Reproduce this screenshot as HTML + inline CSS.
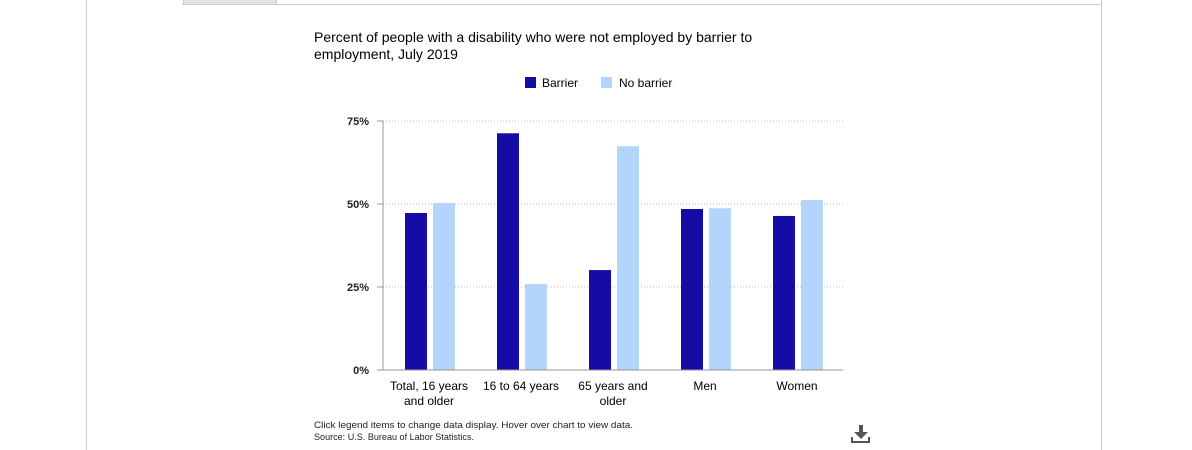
<!DOCTYPE html>
<html><head><meta charset="utf-8"><style>
body{margin:0;width:1192px;height:450px;background:#fff;overflow:hidden;font-family:"Liberation Sans",Arial,sans-serif;position:relative}
</style></head><body>
<div style="position:absolute;left:86px;top:0;width:1px;height:450px;background:#ccc"></div>
<div style="position:absolute;left:1101px;top:0;width:1px;height:450px;background:#ccc"></div>
<div style="position:absolute;left:182px;top:0;width:920px;height:4px;border-bottom:1px solid #ccc"></div>
<div style="position:absolute;left:183px;top:0;width:92px;height:4px;background:#e2e6e0;border:1px solid #ccc;border-top:none"></div>
<svg width="1192" height="450" style="position:absolute;left:0;top:0" id="chart">
<text x="314" y="42" font-size="14" fill="#000">Percent of people with a disability who were not employed by barrier to</text>
<text x="314" y="59" font-size="14" fill="#000">employment, July 2019</text>
<g><rect x="525" y="77" width="11" height="11" fill="#150ca5"/><text x="542" y="87" font-size="12">Barrier</text></g>
<g><rect x="601" y="77" width="11" height="11" fill="#b3d4fb"/><text x="619" y="87" font-size="12">No barrier</text></g>
<g id="plot"></g>
<text x="314" y="428" font-size="9.5" fill="#222" textLength="319" lengthAdjust="spacingAndGlyphs">Click legend items to change data display. Hover over chart to view data.</text>
<text x="314" y="440" font-size="9.5" fill="#222" textLength="160" lengthAdjust="spacingAndGlyphs">Source: U.S. Bureau of Labor Statistics.</text>
<g fill="#555"><rect x="859" y="425" width="4" height="8"/><polygon points="854,432 868,432 861,439"/><rect x="851" y="441" width="19" height="2"/><rect x="851" y="437" width="2" height="5"/><rect x="868" y="437" width="2" height="5"/></g>
</svg>
<script>
const categories=[["Total, 16 years","and older"],["16 to 64 years"],["65 years and","older"],["Men"],["Women"]];
const barrier=[47.3,71.3,30.1,48.5,46.4];
const noBarrier=[50.3,25.9,67.4,48.7,51.2];
const yTicks=[0,25,50,75];
const NS="http://www.w3.org/2000/svg";
const g=document.getElementById('plot');
const x0=383,x1=843,y0=370,yTop=121;
const y=v=>y0-(v/75)*(y0-yTop);
const band=(x1-x0)/categories.length;
function mk(t,a){const e=document.createElementNS(NS,t);for(const k in a)e.setAttribute(k,a[k]);g.appendChild(e);return e;}
yTicks.forEach(t=>{
  if(t>0){const l=mk('line',{x1:x0,x2:x1,y1:y(t),y2:y(t),stroke:'#bbb','stroke-dasharray':'1,2'});
  
  }
  const tk=mk('line',{x1:x0-6,x2:x0,y1:y(t),y2:y(t),stroke:'#999'});
  
  
  const tx=mk('text',{x:x0-14,y:y(t)+4,'font-size':11,'text-anchor':'end','font-weight':'bold',fill:'#222'});
  tx.textContent=t+'%';
  
  
});
categories.forEach((c,i)=>{
  const cx=x0+band*(i+0.5);
  const b=mk('rect',{x:cx-24,y:y(barrier[i]),width:22,height:y0-y(barrier[i]),fill:'#150ca5'});
  
  
  const n=mk('rect',{x:cx+4,y:y(noBarrier[i]),width:22,height:y0-y(noBarrier[i]),fill:'#b3d4fb'});
  
  
  c.forEach((s,j)=>{const t=mk('text',{x:cx,y:390+j*15,'font-size':12,'text-anchor':'middle',fill:'#000'});t.textContent=s;
  
  });
});
const ya=mk('line',{x1:x0,x2:x0,y1:yTop,y2:y0,stroke:'#999'});


const xa=mk('line',{x1:x0,x2:x1,y1:y0,y2:y0,stroke:'#999'});


</script>
</body></html>
